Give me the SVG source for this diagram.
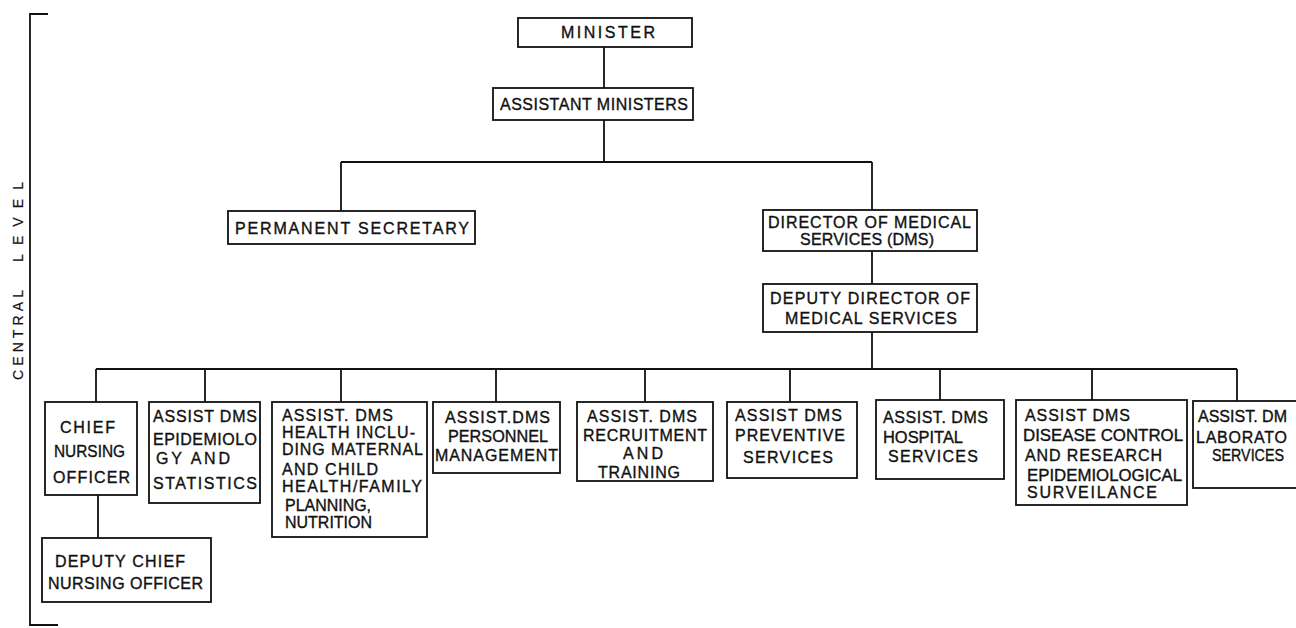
<svg xmlns="http://www.w3.org/2000/svg" width="1296" height="628" viewBox="0 0 1296 628">
<style>
.box{fill:#fff;stroke:#111;stroke-width:1.8}
.ln{fill:none;stroke:#111;stroke-width:1.8}
text{font-family:"Liberation Sans",Arial,sans-serif;font-size:16px;fill:#111;stroke:#111;stroke-width:0.35}
.t{font-size:14px;stroke-width:0.2}
</style>
<rect width="1296" height="628" fill="#fff"/>
<g id="bracket">
<path class="ln" d="M48,14 H30 V625 H58"/>
<text class="t" transform="translate(23,281) rotate(-90)" x="-99" y="0" textLength="90" lengthAdjust="spacing">CENTRAL</text>
<text class="t" transform="translate(23,281) rotate(-90)" x="19" y="0" textLength="80" lengthAdjust="spacing">LEVEL</text>
</g>
<g id="connectors">
<path class="ln" d="M604,47 V88 M604,120 V162 M341,162 H872 M341,162 V211 M872,162 V210 M872,251 V284 M872,332 V369"/>
<path class="ln" d="M96,369 H1237 M96,369 V402 M205,369 V402 M341,369 V402 M496,369 V402 M645,369 V402 M790,369 V402 M940,369 V400 M1092,369 V400 M1237,369 V401 M98,495 V538"/>
</g>
<g id="minister">
<rect class="box" x="518" y="18" width="174" height="29"/>
<text x="561" y="38" textLength="94">MINISTER</text>
</g>
<g id="assistant-ministers">
<rect class="box" x="493" y="88" width="200" height="32"/>
<text x="500" y="110" textLength="188">ASSISTANT MINISTERS</text>
</g>
<g id="permanent-secretary">
<rect class="box" x="228" y="211" width="247" height="33"/>
<text x="235" y="234" textLength="234">PERMANENT SECRETARY</text>
</g>
<g id="dms">
<rect class="box" x="763" y="210" width="214" height="41"/>
<text x="768" y="228" textLength="203">DIRECTOR OF MEDICAL</text>
<text x="800" y="245" textLength="134">SERVICES (DMS)</text>
</g>
<g id="deputy-dms">
<rect class="box" x="763" y="284" width="214" height="48"/>
<text x="770" y="304" textLength="200">DEPUTY DIRECTOR OF</text>
<text x="785" y="324" textLength="172">MEDICAL SERVICES</text>
</g>
<g id="chief-nursing">
<rect class="box" x="45" y="402" width="92" height="93"/>
<text x="60" y="433" textLength="55">CHIEF</text>
<text x="54" y="457" textLength="71" lengthAdjust="spacingAndGlyphs">NURSING</text>
<text x="53" y="483" textLength="77">OFFICER</text>
</g>
<g id="deputy-chief-nursing">
<rect class="box" x="42" y="538" width="169" height="64"/>
<text x="55" y="567" textLength="130">DEPUTY CHIEF</text>
<text x="48" y="589" textLength="155">NURSING OFFICER</text>
</g>
<g id="epidemiology">
<rect class="box" x="149" y="402" width="111" height="101"/>
<text x="153" y="422" textLength="104">ASSIST DMS</text>
<text x="153" y="445" textLength="104">EPIDEMIOLO</text>
<text x="156" y="464" textLength="74">GY AND</text>
<text x="153" y="489" textLength="104">STATISTICS</text>
</g>
<g id="health">
<rect class="box" x="272" y="402" width="155" height="135"/>
<text x="282" y="421" textLength="111">ASSIST. DMS</text>
<text x="282" y="438" textLength="133">HEALTH INCLU-</text>
<text x="282" y="455" textLength="141">DING MATERNAL</text>
<text x="282" y="475" textLength="96">AND CHILD</text>
<text x="282" y="492" textLength="140">HEALTH/FAMILY</text>
<text x="285" y="511" textLength="86" lengthAdjust="spacingAndGlyphs">PLANNING,</text>
<text x="285" y="528" textLength="87" lengthAdjust="spacingAndGlyphs">NUTRITION</text>
</g>
<g id="personnel">
<rect class="box" x="433" y="402" width="127" height="71"/>
<text x="445" y="423" textLength="105">ASSIST.DMS</text>
<text x="448" y="442" textLength="100" lengthAdjust="spacingAndGlyphs">PERSONNEL</text>
<text x="435" y="461" textLength="123">MANAGEMENT</text>
</g>
<g id="recruitment">
<rect class="box" x="577" y="402" width="136" height="79"/>
<text x="587" y="422" textLength="110">ASSIST. DMS</text>
<text x="583" y="441" textLength="124">RECRUITMENT</text>
<text x="623" y="459" textLength="40">AND</text>
<text x="598" y="478" textLength="82">TRAINING</text>
</g>
<g id="preventive">
<rect class="box" x="727" y="402" width="130" height="76"/>
<text x="735" y="421" textLength="107">ASSIST DMS</text>
<text x="735" y="441" textLength="110">PREVENTIVE</text>
<text x="743" y="463" textLength="90">SERVICES</text>
</g>
<g id="hospital">
<rect class="box" x="876" y="400" width="128" height="79"/>
<text x="883" y="423" textLength="105">ASSIST. DMS</text>
<text x="883" y="443" textLength="80" lengthAdjust="spacingAndGlyphs">HOSPITAL</text>
<text x="888" y="462" textLength="90">SERVICES</text>
</g>
<g id="disease-control">
<rect class="box" x="1016" y="400" width="171" height="105"/>
<text x="1025" y="421" textLength="105">ASSIST DMS</text>
<text x="1023" y="441" textLength="160" lengthAdjust="spacingAndGlyphs">DISEASE CONTROL</text>
<text x="1025" y="461" textLength="137">AND RESEARCH</text>
<text x="1027" y="481" textLength="155" lengthAdjust="spacingAndGlyphs">EPIDEMIOLOGICAL</text>
<text x="1027" y="498" textLength="130">SURVEILANCE</text>
</g>
<g id="laboratory">
<rect class="box" x="1193" y="401" width="130" height="87"/>
<text x="1198" y="422" textLength="89" lengthAdjust="spacingAndGlyphs">ASSIST. DM</text>
<text x="1196" y="443" textLength="91">LABORATO</text>
<text x="1212" y="461" textLength="72" lengthAdjust="spacingAndGlyphs">SERVICES</text>
</g>
</svg>
